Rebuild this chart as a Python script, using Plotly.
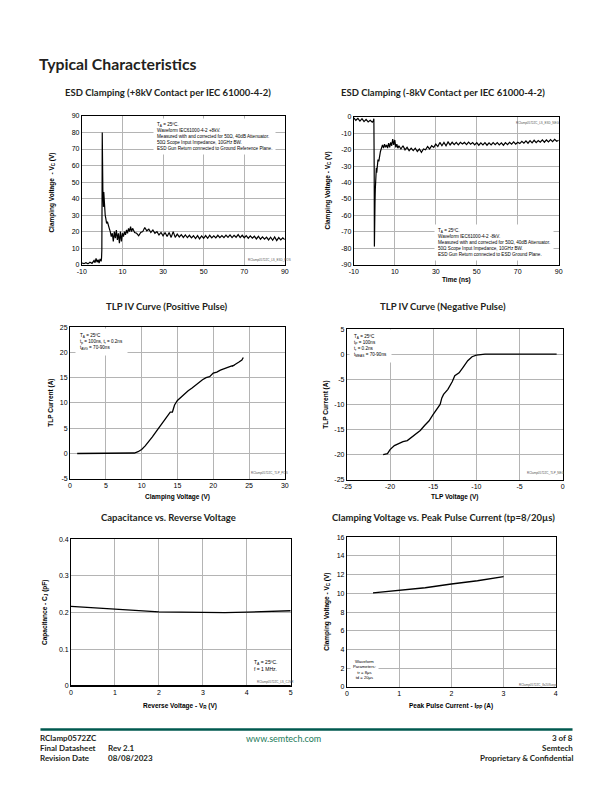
import plotly.graph_objects as go

# ---------------- data ----------------
esd_pos_t = [-10, -9, -8, -7, -6, -5, -4, -3.5, -3, -2.5, -2, -1.5, -1, -0.5, -0.3, -0.15, -0.05, 0.05, 0.2, 0.35,
             0.5, 0.65, 0.8, 1.0, 1.2, 1.5, 1.8, 2.2, 2.6, 3.0, 3.5, 4.0, 4.5, 5, 5.5, 6, 6.5, 7, 7.5, 8, 8.5, 9,
             9.5, 10, 10.5, 11, 11.5, 12, 12.5, 13, 13.5, 14, 14.5, 15, 16, 17, 18, 19, 20, 21, 22, 23, 24, 25,
             26, 27, 28, 29, 30, 31, 32, 33, 34, 35, 36, 37, 38, 39, 40, 41, 42, 43, 44, 45, 46, 47, 48, 49, 50,
             51, 52, 53, 54, 55, 56, 57, 58, 59, 60, 61, 62, 63, 64, 65, 66, 67, 68, 69, 70, 71, 72, 73, 74, 75,
             76, 77, 78, 79, 80, 81, 82, 83, 84, 85, 86, 87, 88, 89, 90]
esd_pos_v = [1.0, 0.6, 1.2, 0.5, 1.5, 0.8, 2.5, 1.2, 3.8, 1.5, 3.0, 1.0, 3.5, 2.0, 4.0, 9.0, 40, 80, 62, 45,
             40, 35, 44, 36, 32, 30, 28, 25, 26, 23, 22, 20, 17, 19, 14, 20, 16, 21, 15, 19, 13, 20,
             14, 19, 17, 20, 18, 21, 19, 22, 20, 23, 20, 22, 19.5, 19, 17.5, 19.5, 20, 22.5, 20.5, 21.5, 19.5, 21,
             19, 20, 18, 19.5, 17.5, 19.5, 17, 19.5, 16.5, 20, 16.5, 18.5, 16.8, 18.2, 16.5, 18, 16.4, 17.8, 16.2, 17.5, 15.8, 17.6, 15.6, 17.4, 16,
             17.6, 16, 17.8, 16.2, 17.5, 16.2, 17.8, 16.4, 17.6, 16.4, 17.9, 16.5, 18, 16.4, 17.8, 16.6, 18.2, 16.4, 17.8, 16.3, 17.6, 16.0, 17.4, 16, 17.2,
             15.6, 17.2, 15.4, 16.8, 15.4, 16.7, 15, 16.6, 14.8, 16.8, 14.6, 16.4, 15.0, 16.2, 15.2]

esd_neg_t = [-10, -9, -8, -7, -6, -5, -4, -3, -2, -1, -0.5, -0.2, -0.05, 0.05, 0.2, 0.35, 0.5, 0.65, 0.8, 1.0,
             1.2, 1.5, 1.8, 2.2, 2.6, 3.0, 3.5, 4.0, 4.5, 5, 5.5, 6, 6.5, 7, 7.5, 8, 8.5, 9, 9.5, 10, 10.5, 11,
             11.5, 12, 13, 14, 15, 16, 17, 18, 19, 20, 21, 22, 23, 24, 25, 26, 27, 28, 29, 30, 31, 32, 33, 34,
             35, 36, 37, 38, 39, 40, 41, 42, 43, 44, 45, 46, 47, 48, 49, 50, 51, 52, 53, 54, 55, 56, 57, 58, 59,
             60, 61, 62, 63, 64, 65, 66, 67, 68, 69, 70, 71, 72, 73, 74, 75, 76, 77, 78, 79, 80, 81, 82, 83, 84,
             85, 86, 87, 88, 89, 90]
esd_neg_v = [-0.5, -2, -0.8, -2.5, -1, -2.8, -1.5, -3, -2, -3.2, -2.5, -1, -30, -79, -70, -52, -44, -36, -40, -31,
             -34, -28, -26, -27, -23, -21, -19, -17, -19, -16.5, -18.5, -17, -19, -16, -18.5, -15.5, -17.5, -13.5, -17, -14, -18.5, -16.5,
             -19, -17.5, -19.5, -17.5, -20, -18.5, -20.5, -19, -20.5, -19, -21, -19.5, -21.5, -19.5, -20, -18, -19.5, -17.5, -18.5, -16.5, -18, -15.5, -17.5, -15.5,
             -17.5, -15.2, -17, -15.4, -16.8, -15.5, -17, -15.4, -16.5, -15.5, -16.8, -15.3, -16.6, -15.6, -17, -15.6, -17.2, -15.8, -17, -15.6, -17.2, -15.8, -17, -15.6, -16.8,
             -15.6, -17, -15.8, -17.2, -15.6, -16.8, -15.4, -16.6, -15.2, -16.6, -15.4, -16.2, -14.8, -16, -14.6, -16, -14.4, -15.8, -14.2, -15.6, -14.4, -15.4, -14, -15.4, -14,
             -15.2, -13.8, -15, -13.6, -14.8, -14.2]

tlp_pos_v = [1, 3, 5, 7, 8.5, 9.0, 9.5, 10, 10.5, 11, 11.5, 12, 12.5, 13, 13.5, 14, 14.3, 14.4, 14.6, 15, 15.5,
             16, 16.5, 17, 17.5, 18, 18.5, 19, 19.5, 20, 20.5, 21, 21.5, 22, 22.5, 23, 22.6, 23.2, 23.6, 24, 24.2]
tlp_pos_i = [0, 0, 0, 0, 0, 0.1, 0.35, 0.8, 1.5, 2.3, 3.3, 4.3, 5.3, 6.3, 7.3, 8.2, 8.2, 8.8, 9.6, 10.5, 11.2,
             11.8, 12.4, 12.9, 13.5, 14.0, 14.6, 15.0, 15.2, 15.9, 16.1, 16.5, 16.8, 17.1, 17.3, 17.5, 17.2, 17.8, 18.1, 18.5, 19.0]

tlp_neg_v = [-20.8, -20.3, -20.0, -19.5, -19.0, -18.5, -18.0, -17.5, -17.0, -16.5, -16.0, -15.5, -15.0, -14.5,
             -14.2, -14.0, -13.8, -13.3, -12.8, -12.5, -12.0, -11.5, -11.0, -10.5, -10.0, -9.0, -6.0, -3.0, -0.7]
tlp_neg_i = [-20.0, -19.8, -19.0, -18.2, -17.8, -17.4, -17.2, -16.5, -15.9, -15.2, -14.2, -13.3, -12.0, -10.8,
             -10.0, -8.7, -8.0, -7.0, -5.5, -4.3, -3.7, -2.5, -1.3, -0.5, -0.2, 0, 0, 0, 0]

cap_vr = [0, 0.5, 1, 1.5, 2, 2.5, 3, 3.5, 4, 4.5, 5]
cap_cj = [0.217, 0.213, 0.209, 0.205, 0.202, 0.201, 0.200, 0.200, 0.201, 0.203, 0.205]

ipp_a = [0.5, 1.0, 1.5, 2.0, 2.5, 3.0]
ipp_vc = [10.05, 10.35, 10.6, 11.0, 11.35, 11.8]

# tick labels (hyphen minus as in the reference)
esd_x_ticks = [-10, 10, 30, 50, 70, 90]
esd_pos_y_ticks = [0, 10, 20, 30, 40, 50, 60, 70, 80, 90]
esd_neg_y_ticks = [0, -10, -20, -30, -40, -50, -60, -70, -80, -90]
tlp_pos_x_ticks = [0, 5, 10, 15, 20, 25, 30]
tlp_pos_y_ticks = [-5, 0, 5, 10, 15, 20, 25]
tlp_neg_x_ticks = [-25, -20, -15, -10, -5, 0]
tlp_neg_y_ticks = [-25, -20, -15, -10, -5, 0, 5]
cap_x_ticks = [0, 1, 2, 3, 4, 5]
cap_y_ticks = [0, 0.1, 0.2, 0.3, 0.4]
ipp_x_ticks = [0, 1, 2, 3, 4]
ipp_y_ticks = [0, 2, 4, 6, 8, 10, 12, 14, 16]

W, H = 612, 792
ARIAL = "Liberation Sans, Arial, sans-serif"
TFONT = "Lato, Open Sans, sans-serif"

fig = go.Figure()

# panel pixel boxes: (x0, x1, y0_top, y1_bottom)
boxes = [
    (78, 284, 113, 263),
    (354, 562, 114, 263),
    (66, 284, 326, 479),
    (347, 566, 328, 480),
    (67, 290, 540, 688),
    (347, 559, 538, 689),
]
xr = [(-10, 90), (-10, 90), (0, 30), (-25, 0), (0, 5), (0, 4)]
yr = [(0, 90), (-90, 0), (-5, 25), (-25, 5), (0, 0.4), (0, 16)]
xt = [esd_x_ticks, esd_x_ticks, tlp_pos_x_ticks, tlp_neg_x_ticks, cap_x_ticks, ipp_x_ticks]
yt = [esd_pos_y_ticks, esd_neg_y_ticks, tlp_pos_y_ticks, tlp_neg_y_ticks, cap_y_ticks, ipp_y_ticks]
series = [(esd_pos_t, esd_pos_v), (esd_neg_t, esd_neg_v), (tlp_pos_v, tlp_pos_i),
          (tlp_neg_v, tlp_neg_i), (cap_vr, cap_cj), (ipp_a, ipp_vc)]
lw = [1.2, 1.2, 1.3, 1.3, 1.3, 1.3]


def lab(v):
    return "%g" % v


layout = dict(width=W, height=H, margin=dict(l=0, r=0, t=0, b=0), showlegend=False,
              paper_bgcolor="white", plot_bgcolor="white")

for i, ((x0, x1, y0, y1), xrng, yrng, xtv, ytv, (xs, ys)) in enumerate(zip(boxes, xr, yr, xt, yt, series)):
    n = "" if i == 0 else str(i + 1)
    common = dict(showline=True, mirror=True, linecolor="black", linewidth=1,
                  showgrid=True, gridcolor="#b4b4b4", gridwidth=1, zeroline=False,
                  ticks="", tickfont=dict(family=ARIAL, size=7, color="black"), fixedrange=True)
    layout["xaxis" + n] = dict(domain=[x0 / W, x1 / W], range=list(xrng), tickvals=xtv,
                               ticktext=[lab(v) for v in xtv], anchor="y" + n, **common)
    layout["yaxis" + n] = dict(domain=[1 - y1 / H, 1 - y0 / H], range=list(yrng), tickvals=ytv,
                               ticktext=[lab(v) for v in ytv], anchor="x" + n, **common)
    fig.add_trace(go.Scatter(x=xs, y=ys, mode="lines", line=dict(color="black", width=lw[i]),
                             xaxis="x" + n, yaxis="y" + n, hoverinfo="skip"))

ann = []


def txt(x, y, s, size=7, family=ARIAL, bold=False, color="black", xanchor="center", yanchor="middle",
        angle=0, bg=None, align="left", pad=1):
    d = dict(x=x / W, y=1 - y / H, xref="paper", yref="paper", text=s,
             showarrow=False, font=dict(family=family, size=size, color=color,
                                        weight="bold" if bold else "normal"),
             xanchor=xanchor, yanchor=yanchor, textangle=angle, align=align, borderpad=pad)
    if bg:
        d["bgcolor"] = bg
    ann.append(d)


DARK = "#231f20"
# header
txt(32, 60, "Typical Characteristics", size=15.8, family=TFONT, bold=True, color=DARK, xanchor="left")

# titles
tsz = 9.5
txt(165, 89, "ESD Clamping (+8kV Contact per IEC 61000-4-2)", size=tsz, family=TFONT, bold=True, color=DARK)
txt(445, 89, "ESD Clamping (-8kV Contact per IEC 61000-4-2)", size=tsz, family=TFONT, bold=True, color=DARK)
txt(164, 305, "TLP IV Curve (Positive Pulse)", size=tsz, family=TFONT, bold=True, color=DARK)
txt(445, 305, "TLP IV Curve (Negative Pulse)", size=tsz, family=TFONT, bold=True, color=DARK)
txt(166, 518, "Capacitance vs. Reverse Voltage", size=tsz, family=TFONT, bold=True, color=DARK)
txt(445, 518, "Clamping Voltage vs. Peak Pulse Current (tp=8/20\u00b5s)", size=tsz, family=TFONT, bold=True,
    color=DARK)

# axis titles
asz = 6.5
txt(48, 190, "Clamping Voltage  - V<sub>C</sub> (V)", size=asz, bold=True, angle=-90)
txt(328, 188, "Clamping Voltage - V<sub>C</sub> (V)", size=asz, bold=True, angle=-90)
txt(458, 278, "Time (ns)", size=asz, bold=True)
txt(47, 402, "TLP Current (A)", size=asz, bold=True, angle=-90)
txt(326, 404, "TLP Current (A)", size=asz, bold=True, angle=-90)
txt(175, 497, "Clamping Voltage (V)", size=asz, bold=True)
txt(456, 497, "TLP Voltage (V)", size=asz, bold=True)
txt(40, 614, "Capacitance - C<sub>J</sub> (pF)", size=asz, bold=True, angle=-90)
txt(178, 708, "Reverse Voltage - V<sub>R</sub> (V)", size=asz, bold=True)
txt(326, 613, "Clamping Voltage - V<sub>C</sub> (V)", size=asz, bold=True, angle=-90)
txt(453, 708, "Peak Pulse Current - I<sub>PP</sub> (A)", size=asz, bold=True)

# in-plot notes
nsz = 4.6
txt(150, 134, "T<sub>A</sub> = 25ºC.<br>Waveform IEC61000-4-2 +8kV.<br>Measured with and corrected for 50Ω, 40dB Attenuator."
              "<br>50Ω Scope Input Impedance, 10GHz BW.<br>ESD Gun Return connected to Ground Reference Plane.",
    size=nsz, xanchor="left", bg="white", pad=3)
txt(435, 241, "T<sub>A</sub> = 25ºC.<br>Waveform IEC61000-4-2 -8kV.<br>Measured with and corrected for 50Ω, 40dB Attenuator."
              "<br>50Ω Scope Input Impedance, 10GHz BW.<br>ESD Gun Return connected to ESD Ground Plane.",
    size=nsz, xanchor="left", bg="white", pad=3)
txt(71, 341, "T<sub>A</sub> = 25ºC<br>t<sub>p</sub> = 100ns, t<sub>r</sub> = 0.2ns<br>t<sub>AVG</sub> = 70-90ns",
    size=nsz, xanchor="left", bg="white", pad=4)
txt(349, 345, "T<sub>A</sub> = 25ºC<br>t<sub>P</sub> = 100ns<br>t<sub>r</sub> = 0.2ns<br>t<sub>MEAS</sub> = 70-90ns",
    size=nsz, xanchor="left", bg="white", pad=4)
txt(250, 667, "T<sub>A</sub> = 25ºC.<br>f = 1 MHz.", size=5, xanchor="left", bg="white", pad=2)
txt(365, 671, "Waveform<br>Parameters:<br>tr = 8μs<br>td = 20μs", size=4.2, align="center", bg="white", pad=2)

# tiny chart ids
isz = 3
txt(268, 258, "RClamp0572ZC_LS_ESD_POS", size=isz, color="#555")
txt(541, 120, "RClamp0572ZC_LS_ESD_NEG", size=isz, color="#555")
txt(268, 473, "RClamp0572ZC_TLP_POS", size=isz, color="#555")
txt(549, 473, "RClamp0572ZC_TLP_NEG", size=isz, color="#555")
txt(275, 684, "RClamp0572ZC_LS_CJVR", size=isz, color="#555")
txt(541, 687, "RClamp0572ZC_8x20Surge", size=isz, color="#555")

# footer
fsz = 8
txt(33, 741, "RClamp0572ZC", size=fsz, family=TFONT, bold=True, color=DARK, xanchor="left")
txt(33, 751, "Final Datasheet", size=fsz, family=TFONT, bold=True, color=DARK, xanchor="left")
txt(33, 761, "Revision Date", size=fsz, family=TFONT, bold=True, color=DARK, xanchor="left")
txt(103, 751, "Rev 2.1", size=fsz, family=TFONT, bold=True, color=DARK, xanchor="left")
txt(103, 761, "08/08/2023", size=fsz, family=TFONT, bold=True, color=DARK, xanchor="left")
txt(283, 741, "www.semtech.com", size=9, family=TFONT, color="#1a7a5a")
txt(579, 741, "3 of 8", size=fsz, family=TFONT, bold=True, color=DARK, xanchor="right")
txt(579, 751, "Semtech", size=fsz, family=TFONT, bold=True, color=DARK, xanchor="right")
txt(579, 761, "Proprietary & Confidential", size=fsz, family=TFONT, bold=True, color=DARK, xanchor="right")

layout["annotations"] = ann
layout["shapes"] = [
    dict(type="line", xref="paper", yref="paper", x0=36 / W, x1=576 / W, y0=1 - 732 / H, y1=1 - 732 / H,
         line=dict(color="#00594f", width=2.5)),
    dict(type="line", xref="paper", yref="paper", x0=67 / W, x1=290 / W, y0=1 - 688 / H, y1=1 - 688 / H,
         line=dict(color="black", width=2)),
]
fig.update_layout(**layout)
fig.write_html("out.html", config={"displayModeBar": False})

# remove the default page margin so the 612x792 figure fills the window exactly
with open("out.html", "r", encoding="utf-8") as f:
    html = f.read()
html = html.replace("<head>", "<head><style>html,body{margin:0;padding:0;overflow:hidden;}</style>", 1)
with open("out.html", "w", encoding="utf-8") as f:
    f.write(html)
